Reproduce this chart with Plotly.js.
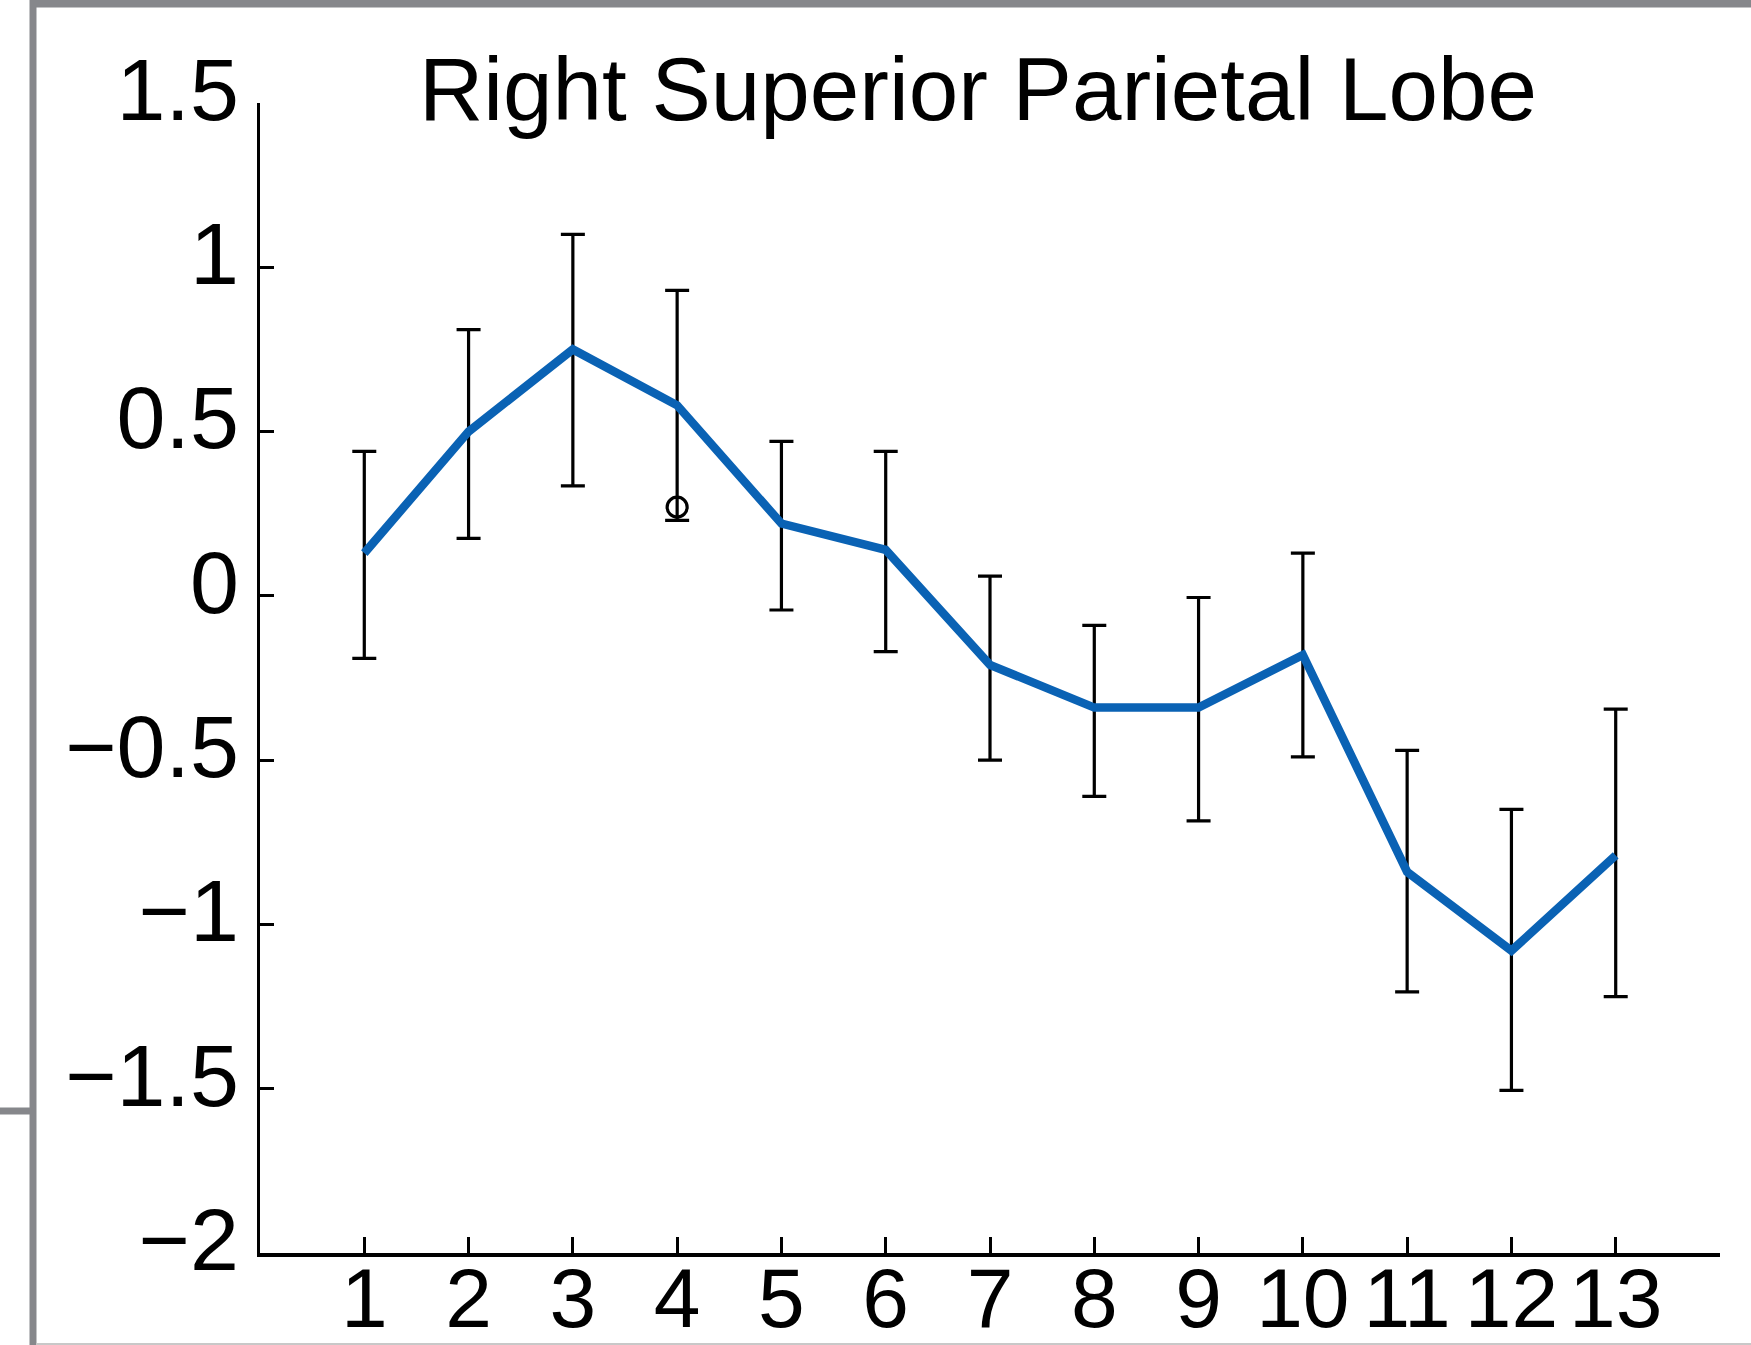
<!DOCTYPE html>
<html>
<head>
<meta charset="utf-8">
<script src="https://cdn.plot.ly/plotly-3.0.1.min.js"></script>
<style>html,body{margin:0;padding:0;background:#fff;}#chart{width:1751px;height:1345px;}</style>
</head>
<body>
<div id="chart"></div>
<script>
// Data
const conditions = [1, 2, 3, 4, 5, 6, 7, 8, 9, 10, 11, 12, 13];
const meanValues = [0.13, 0.50, 0.75, 0.58, 0.22, 0.14, -0.21, -0.34, -0.34, -0.18, -0.84, -1.08, -0.79];
const upperBounds = [0.44, 0.81, 1.10, 0.93, 0.47, 0.44, 0.06, -0.09, -0.005, 0.13, -0.47, -0.65, -0.345];
const lowerBounds = [-0.19, 0.175, 0.335, 0.23, -0.043, -0.17, -0.50, -0.61, -0.685, -0.49, -1.205, -1.505, -1.22];
const markX = [4];
const markY = [0.27];
const yTickVals = [-2, -1.5, -1, -0.5, 0, 0.5, 1, 1.5];
const titleText = "Right Superior Parietal Lobe";

const errPlus = meanValues.map((v, i) => upperBounds[i] - v);
const errMinus = meanValues.map((v, i) => v - lowerBounds[i]);

const W = 1751, H = 1345;
const L = 260, R = 31, T = 103, B = 92;
const plotW = W - L - R, plotH = H - T - B;
const px = x => (x - L) / plotW;      // pixel -> paper x
const py = y => (H - B - y) / plotH;  // pixel -> paper y

const FONT = "Liberation Sans, Arial, Helvetica, sans-serif";

const traces = [
  {
    x: conditions, y: meanValues, type: "scatter", mode: "lines",
    line: {color: "#0a62b4", width: 8.5},
    error_y: {type: "data", symmetric: false, array: errPlus, arrayminus: errMinus,
              color: "#000", thickness: 3.2, width: 12},
    hoverinfo: "x+y", showlegend: false
  },
  {
    x: markX, y: markY, type: "scatter", mode: "markers",
    marker: {symbol: "circle-open", size: 20, color: "#000", line: {width: 3.2, color: "#000"}},
    showlegend: false
  }
];

const gray = "#86878b";
const layout = {
  width: W, height: H,
  margin: {l: L, r: R, t: T, b: B, pad: 0},
  paper_bgcolor: "#fff", plot_bgcolor: "#fff",
  font: {family: FONT, color: "#000", size: 88},
  title: {
    text: titleText, font: {family: FONT, size: 89, color: "#000"},
    xref: "paper", x: px(978), xanchor: "center",
    yref: "container", y: 1 - 89 / H, yanchor: "middle"
  },
  xaxis: {
    range: [0, 14], tickmode: "array", tickvals: conditions,
    ticks: "inside", ticklen: 16, tickwidth: 3, tickcolor: "#000",
    showline: true, linecolor: "#000", linewidth: 3.5,
    showgrid: false, zeroline: false, ticklabelstandoff: -30,
    tickfont: {family: FONT, size: 84, color: "#000"}
  },
  yaxis: {
    range: [-2, 1.5], tickmode: "array", tickvals: yTickVals,
    ticks: "inside", ticklen: 14, tickwidth: 3, tickcolor: "#000",
    showline: true, linecolor: "#000", linewidth: 3.5,
    showgrid: false, zeroline: false, ticklabelstandoff: 0, ticklabelshift: -14,
    tickfont: {family: FONT, size: 88, color: "#000"}
  },
  shapes: [
    {type: "line", xref: "paper", yref: "paper", x0: px(33), x1: px(33), y0: py(0), y1: py(H),
     line: {color: gray, width: 7}},
    {type: "line", xref: "paper", yref: "paper", x0: px(30), x1: px(W), y0: py(3.5), y1: py(3.5),
     line: {color: gray, width: 8}},
    {type: "line", xref: "paper", yref: "paper", x0: px(0), x1: px(33), y0: py(1111), y1: py(1111),
     line: {color: gray, width: 7}},
    {type: "line", xref: "paper", yref: "paper", x0: px(36), x1: px(W), y0: py(1344), y1: py(1344),
     line: {color: "#c8c8c8", width: 2}}
  ]
};

Plotly.newPlot("chart", traces, layout, {displayModeBar: false, staticPlot: true});
</script>
</body>
</html>
